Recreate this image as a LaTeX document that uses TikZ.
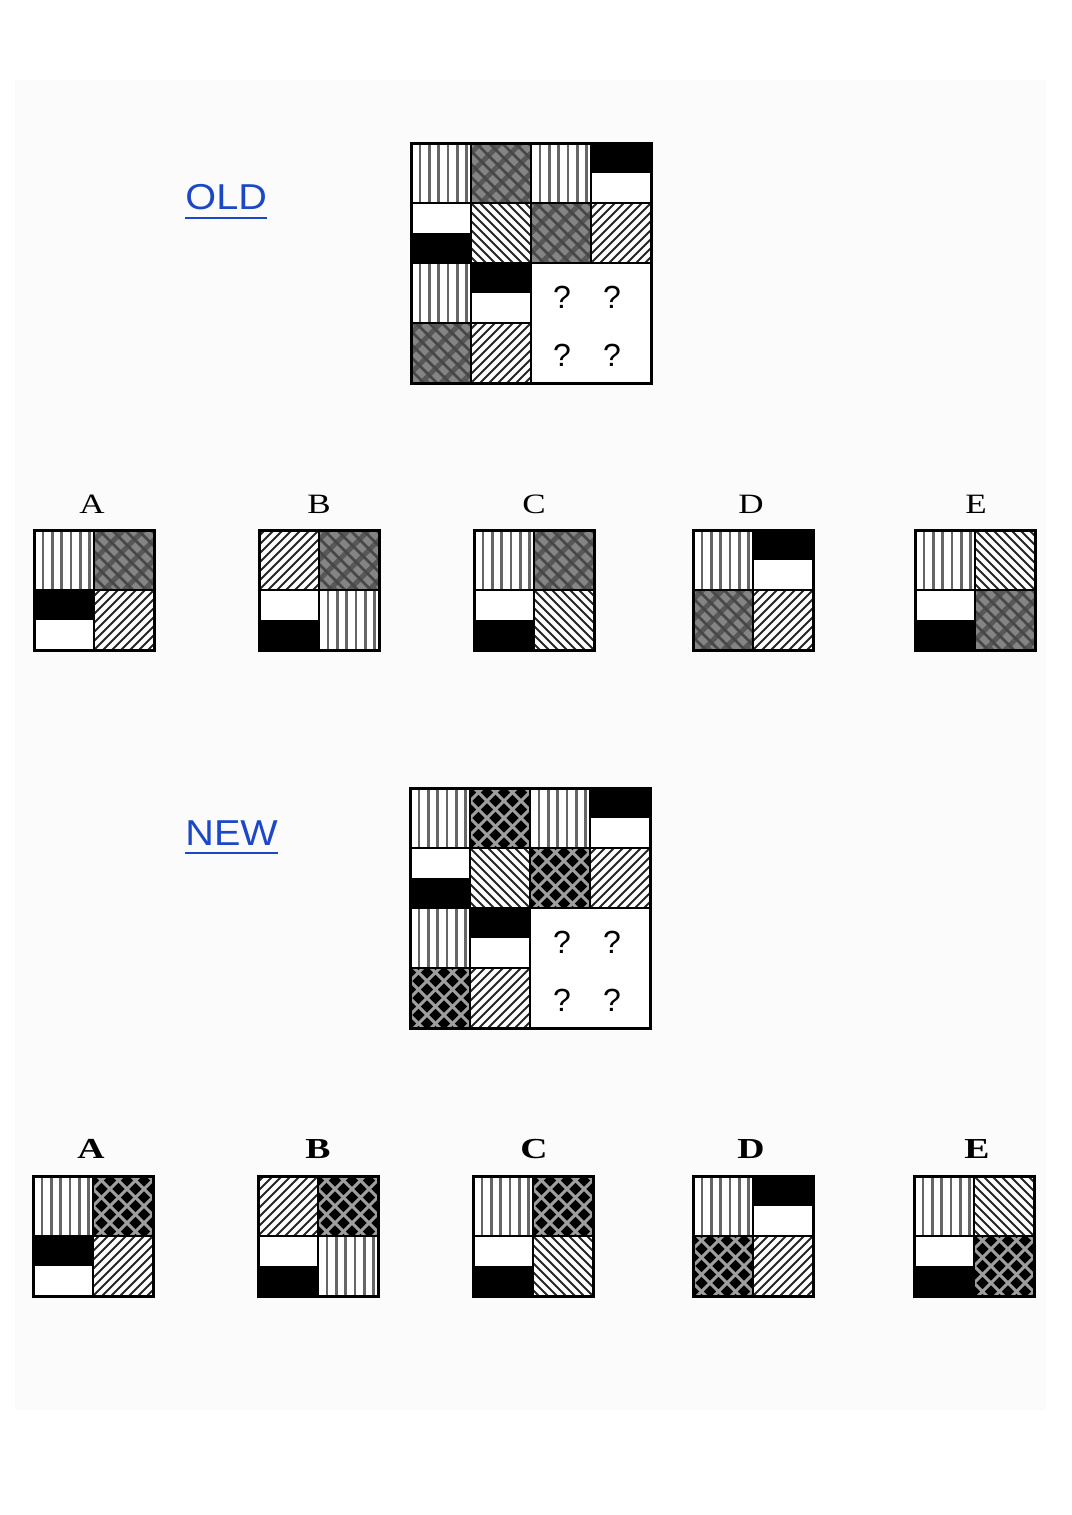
\documentclass[tikz,border=0pt]{standalone}
\usepackage{fontspec}
\setmainfont{Liberation Serif}
\newfontfamily\labelfont{Liberation Sans}
\definecolor{linkblue}{RGB}{28,72,198}
\definecolor{panel}{RGB}{252,251,252}
\definecolor{weavegray}{RGB}{88,88,88}
\definecolor{weavepale}{RGB}{132,132,132}

\newcommand{\cellV}[2]{%
  \begin{scope}
    \clip (#1,#2) rectangle ++(60,60);
    \foreach \k in {0,...,5} \draw[vline] ({#1+9+9.3*\k},#2) -- ++(0,60);
  \end{scope}}
\newcommand{\cellR}[2]{%
  \begin{scope}
    \clip (#1,#2) rectangle ++(60,60);
    \foreach \k in {-7,...,7} \draw[dline] ({#1+9*\k},{#2+60}) -- ++(60,-60);
  \end{scope}}
\newcommand{\cellF}[2]{%
  \begin{scope}
    \clip (#1,#2) rectangle ++(60,60);
    \foreach \k in {-7,...,7} \draw[dline] ({#1+9*\k},#2) -- ++(60,60);
  \end{scope}}
\newcommand{\cellW}[2]{%
  \begin{scope}
    \clip (#1,#2) rectangle ++(60,60);
    \fill[weavegray] (#1,#2) rectangle ++(60,60);
    \foreach \k in {-3,...,3} \draw[weavelight] ({#1+20*\k},{#2+60}) -- ++(60,-60);
    \foreach \k in {-5,...,5} \draw[weavedark] ({#1+13*\k+5},#2) -- ++(60,60);
  \end{scope}}
\newcommand{\cellM}[2]{%
  \begin{scope}
    \clip (#1,#2) rectangle ++(60,60);
    \fill[black] (#1,#2) rectangle ++(60,60);
    \foreach \k in {-4,...,4} {
      \draw[mesh] ({#1+17*\k+4},{#2+60}) -- ++(60,-60);
      \draw[mesh] ({#1+17*\k+4},#2) -- ++(60,60);
    }
  \end{scope}}
\newcommand{\cellBW}[2]{\fill[black] (#1,#2) rectangle ++(60,30);}
\newcommand{\cellWB}[2]{\fill[black] (#1,{#2+30}) rectangle ++(60,30);}

\newcommand{\puzzle}[3]{%
  \fill[white] (#1,#2) rectangle ++(240,240);
  \cellV{#1}{#2} #3{#1+60}{#2} \cellV{#1+120}{#2} \cellBW{#1+180}{#2}
  \cellWB{#1}{#2+60} \cellF{#1+60}{#2+60} #3{#1+120}{#2+60} \cellR{#1+180}{#2+60}
  \cellV{#1}{#2+120} \cellBW{#1+60}{#2+120}
  #3{#1}{#2+180} \cellR{#1+60}{#2+180}
  \draw[grid] ({#1+60},#2) -- ++(0,240) ({#1+120},#2) -- ++(0,240) ({#1+180},#2) -- ++(0,120)
    (#1,{#2+60}) -- ++(240,0) (#1,{#2+120}) -- ++(240,0) (#1,{#2+180}) -- ++(120,0);
  \draw[frame] (#1,#2) rectangle ++(240,240);}

\newcommand{\optbox}[6]{%
  \fill[white] (#1,#2) rectangle ++(120,120);
  #3{#1}{#2} #4{#1+60}{#2} #5{#1}{#2+60} #6{#1+60}{#2+60}
  \draw[grid] ({#1+60},#2) -- ++(0,120) (#1,{#2+60}) -- ++(120,0);
  \draw[frame] (#1,#2) rectangle ++(120,120);}

\begin{document}
\begin{tikzpicture}[x=0.5pt,y=-0.5pt,
  frame/.style={line width=1.5pt,black},
  grid/.style={line width=1.2pt,black},
  vline/.style={line width=1.3pt,black!60},
  dline/.style={line width=1pt,black!85},
  weavelight/.style={line width=4.5pt,weavepale},
  weavedark/.style={line width=1.4pt,black!72},
  mesh/.style={line width=1.5pt,black!38},
  tag/.style={font=\labelfont\fontsize{18}{18}\selectfont,text=linkblue,inner sep=0,xscale=1.1,anchor=base west},
  uline/.style={line width=1.4pt,linkblue},
  letter/.style={font=\fontsize{14}{14}\selectfont,inner sep=0,xscale=1.25,anchor=base},
  newletter/.style={font=\bfseries\fontsize{14.5}{15}\selectfont,inner sep=0,xscale=1.3,anchor=base},
  qmark/.style={font=\labelfont\fontsize{16}{16}\selectfont,inner sep=0}]
\useasboundingbox (0,0) rectangle (1071,1515);
\fill[panel] (15,80) rectangle (1046,1410);

\node[tag] (old) at (185,209) {OLD};
\draw[uline] ([yshift=-4.5pt]old.base west) -- ([yshift=-4.5pt]old.base east);
\puzzle{411}{143}{\cellW}
\node[qmark] (oldq1) at (562,297) {?};
\node[qmark] (oldq2) at (612,297) {?};
\node[qmark] (oldq3) at (562,355) {?};
\node[qmark] (oldq4) at (612,355) {?};

\node[letter] (oldA) at (92,513) {A};
\node[letter] (oldB) at (319,513) {B};
\node[letter] (oldC) at (534,513) {C};
\node[letter] (oldD) at (751,513) {D};
\node[letter] (oldE) at (976,513) {E};
\optbox{34}{530}{\cellV}{\cellW}{\cellBW}{\cellR}
\optbox{259}{530}{\cellR}{\cellW}{\cellWB}{\cellV}
\optbox{474}{530}{\cellV}{\cellW}{\cellWB}{\cellF}
\optbox{693}{530}{\cellV}{\cellBW}{\cellW}{\cellR}
\optbox{915}{530}{\cellV}{\cellF}{\cellWB}{\cellW}

\node[tag] (new) at (185,845) {NEW};
\draw[uline] ([yshift=-4pt]new.base west) -- ([yshift=-4pt]new.base east);
\puzzle{410}{788}{\cellM}
\node[qmark] (newq1) at (562,942) {?};
\node[qmark] (newq2) at (612,942) {?};
\node[qmark] (newq3) at (562,1000) {?};
\node[qmark] (newq4) at (612,1000) {?};

\node[newletter] (newA) at (91,1158) {A};
\node[newletter] (newB) at (318,1158) {B};
\node[newletter] (newC) at (534,1158) {C};
\node[newletter] (newD) at (751,1158) {D};
\node[newletter] (newE) at (977,1158) {E};
\optbox{33}{1176}{\cellV}{\cellM}{\cellBW}{\cellR}
\optbox{258}{1176}{\cellR}{\cellM}{\cellWB}{\cellV}
\optbox{473}{1176}{\cellV}{\cellM}{\cellWB}{\cellF}
\optbox{693}{1176}{\cellV}{\cellBW}{\cellM}{\cellR}
\optbox{914}{1176}{\cellV}{\cellF}{\cellWB}{\cellM}
\end{tikzpicture}
\end{document}
